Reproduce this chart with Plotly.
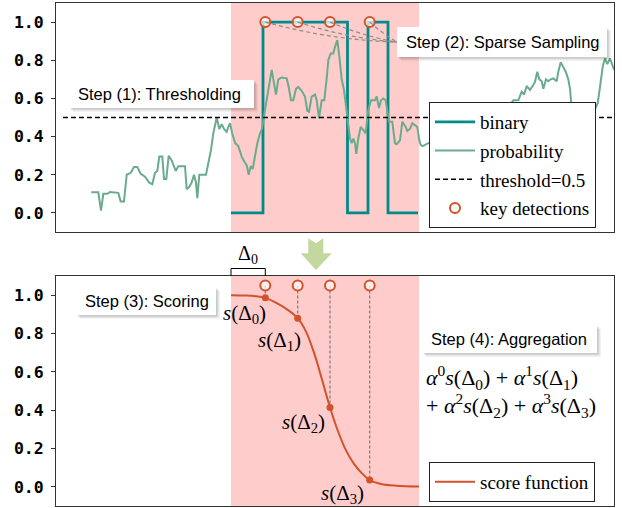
import plotly.graph_objects as go

# ---------------------------------------------------------------- data
# frame position and per-frame event probability
prob_x = [35.3, 42.3, 45, 47.3, 51.3, 54, 62.3, 64.7, 68, 70.7, 74.7, 78, 81.3, 84.7,
          89, 93, 96.3, 99, 101.3, 103.3, 106.3, 108, 110.3, 112.7, 115.7, 117.3, 119.7,
          122.3, 129, 130.7, 133.3, 135.7, 138, 140, 141.3, 143.3, 150, 152.3, 155,
          157.3, 160.7, 163.3, 165.7, 168, 170.7, 172.3, 174, 176.3, 179.3, 182.3, 185.7,
          189, 190.7, 192.7, 194.7, 196.7, 199, 201.3, 204, 206, 209, 212.3, 215.7, 218,
          220, 222.3, 225.7, 230.7, 232.7, 235, 237.3, 240, 242.3, 245.7, 249, 251.3, 253,
          255.7, 259, 260.7, 263, 265.7, 268.3, 270.7, 272.3, 274.7, 277.3, 279, 281.3,
          283.3, 285.7, 288, 290, 292.3, 294, 295.7, 297.3, 299, 300.3, 302.3, 304.7, 307.3,
          309.7, 312.3, 315, 319, 320.7, 323, 325, 327.3, 329.7, 333, 336.3, 339, 340.7,
          344, 346.3, 349.7, 351.3, 354, 356.3, 359, 361.3, 363.3, 364.7, 366.7, 370,
          374, 382, 390, 398, 406, 414, 422, 430, 438, 446, 452,
          457.3, 462.3, 465.7, 468, 470.7, 474, 477.3, 479, 481.3, 483.3, 485.7, 487.3,
          490, 492.3, 494.7, 497.3, 500.7, 502.3, 504.7, 507.3, 509.7, 512.3, 514, 515.7,
          520, 526, 532, 538, 541.7, 544, 546.7, 549, 551.3, 554, 557.3, 558]
prob_y = [0.108, 0.108, 0.012, 0.10, 0.10, 0.11, 0.105, 0.06, 0.06, 0.20, 0.21, 0.24,
          0.24, 0.205, 0.19, 0.16, 0.15, 0.21, 0.22, 0.295, 0.295, 0.178, 0.178, 0.30,
          0.275, 0.25, 0.22, 0.245, 0.245, 0.124, 0.137, 0.16, 0.20, 0.16, 0.077, 0.20,
          0.20, 0.26, 0.33, 0.417, 0.50, 0.44, 0.465, 0.44, 0.425, 0.45, 0.47, 0.415,
          0.365, 0.35, 0.295, 0.263, 0.25, 0.20, 0.245, 0.23, 0.30, 0.365, 0.417, 0.44,
          0.54, 0.645, 0.75, 0.68, 0.62, 0.70, 0.71, 0.705, 0.66, 0.59, 0.59, 0.65, 0.66,
          0.64, 0.61, 0.535, 0.53, 0.61, 0.62, 0.59, 0.496, 0.59, 0.59, 0.705, 0.80,
          0.836, 0.836, 0.87, 0.906, 0.82, 0.70, 0.644, 0.556, 0.47, 0.39, 0.365, 0.39,
          0.365, 0.31, 0.39, 0.45, 0.435, 0.417, 0.54, 0.59, 0.59, 0.61, 0.55, 0.59, 0.60,
          0.59, 0.478, 0.478, 0.365, 0.36, 0.38, 0.478, 0.45, 0.43, 0.44, 0.47, 0.46,
          0.45, 0.38, 0.356, 0.35, 0.36,
          0.37, 0.42, 0.40, 0.46, 0.44, 0.50, 0.47, 0.52, 0.50, 0.54, 0.55,
          0.59, 0.59, 0.635, 0.62, 0.665, 0.645, 0.67, 0.687, 0.74, 0.70, 0.69, 0.65,
          0.70, 0.69, 0.70, 0.705, 0.69, 0.74, 0.79, 0.76, 0.74, 0.70, 0.65, 0.545,
          0.50, 0.47, 0.49, 0.53, 0.575, 0.66, 0.766, 0.81, 0.78, 0.81, 0.766, 0.75]

# thresholded (binary) decision, step form
binary_x = [175, 207, 291.5, 312, 332, 362]
binary_y = [0, 1, 0, 1, 0, 0]

threshold = 0.5
threshold_x = [7, 558]

# ground-truth event interval
event_span = [175, 363]

# sparsely sampled key detections
det_x = [209.3, 241.7, 274, 313.7]
det_level_top = 1.0
det_level_bottom = 1.05

# score function s(Δ) and its value at each key detection
score_x = [175, 190, 200, 209.3, 220, 230, 241.7, 250, 258, 266, 274, 282, 290, 298,
           306, 313.7, 325, 340, 363]
score_y = [1.0, 0.998, 0.994, 0.986, 0.96, 0.93, 0.88, 0.81, 0.70, 0.56, 0.414, 0.29,
           0.19, 0.12, 0.07, 0.035, 0.015, 0.006, 0.002]
det_scores = [0.986, 0.88, 0.414, 0.035]

# ---------------------------------------------------------------- style
W, H = 622, 508
ML, MR, MT, MB = 56, 8, 3, 2
PW, PH = W - ML - MR, H - MT - MB

TEAL = "#008b8b"
GREEN = "#6aab8e"
ORANGE = "#d2522a"
PINK = "rgba(255,0,0,0.2)"
SANS = "Liberation Sans, Arial, sans-serif"
SERIF = "Liberation Serif, Tinos, Times New Roman, DejaVu Serif, serif"
MONO = "DejaVu Sans Mono"

X_RANGE = [0, 558]
Y_RANGE = [-0.1, 1.1]


def px_x(p):
    return (p - ML) / PW


def px_y(p):
    return (H - MB - p) / PH


top_dom = [px_y(232), 1.0]
bot_dom = [0.0, px_y(276)]

fig = go.Figure()

# ---------------------------------------------------------------- top panel
fig.add_trace(go.Scatter(x=binary_x, y=binary_y, mode="lines", name="binary",
                         line=dict(color=TEAL, width=2.8, shape="hv"),
                         xaxis="x", yaxis="y", legend="legend", legendgroup="a"))
fig.add_trace(go.Scatter(x=prob_x, y=prob_y, mode="lines", name="probability",
                         line=dict(color=GREEN, width=2),
                         xaxis="x", yaxis="y", legend="legend", legendgroup="b"))
fig.add_trace(go.Scatter(x=threshold_x, y=[threshold] * len(threshold_x), mode="lines",
                         name=f"threshold={threshold}",
                         line=dict(color="black", width=1.3, dash="5px,3px"),
                         xaxis="x", yaxis="y", legend="legend", legendgroup="c"))
fig.add_trace(go.Scatter(x=det_x, y=[det_level_top] * len(det_x), mode="markers",
                         name="key detections",
                         marker=dict(symbol="circle", size=10, color="rgba(255,255,255,0.7)",
                                     line=dict(color=ORANGE, width=2)),
                         xaxis="x", yaxis="y", legend="legend", legendgroup="d"))

# ---------------------------------------------------------------- bottom panel
drop_x, drop_y = [], []
for x, s in zip(det_x, det_scores):
    drop_x += [x, x, None]
    drop_y += [det_level_bottom, s, None]
fig.add_trace(go.Scatter(x=drop_x, y=drop_y, mode="lines", showlegend=False,
                         line=dict(color="#7a7a7a", width=1.2, dash="3px,2px"),
                         xaxis="x2", yaxis="y2"))
fig.add_trace(go.Scatter(x=score_x, y=score_y, mode="lines", name="score function",
                         line=dict(color=ORANGE, width=2, shape="spline"),
                         xaxis="x2", yaxis="y2", legend="legend2"))
fig.add_trace(go.Scatter(x=det_x, y=det_scores, mode="markers", showlegend=False,
                         marker=dict(size=7, color=ORANGE),
                         xaxis="x2", yaxis="y2"))
fig.add_trace(go.Scatter(x=det_x, y=[det_level_bottom] * len(det_x), mode="markers",
                         showlegend=False,
                         marker=dict(symbol="circle", size=10, color="rgba(255,255,255,0.7)",
                                     line=dict(color=ORANGE, width=2)),
                         xaxis="x2", yaxis="y2"))

# ---------------------------------------------------------------- shapes
shapes = []
for xr, yr in (("x", "y"), ("x2", "y2")):
    shapes.append(dict(type="rect", xref=xr, yref=f"{yr} domain", x0=event_span[0],
                       x1=event_span[1], y0=0, y1=1, fillcolor=PINK, line_width=0,
                       layer="below"))

# curved connectors from each key detection to the sampling label
y_px_per_unit = (top_dom[1] - top_dom[0]) * PH / (Y_RANGE[1] - Y_RANGE[0])
anchor_x, anchor_y = 341, 0.895
for x in det_x:
    x0, y0 = x, det_level_top
    mx, my = (x0 + anchor_x) / 2, (y0 + anchor_y) / 2
    length = ((anchor_x - x0) ** 2 + ((anchor_y - y0) * y_px_per_unit) ** 2) ** 0.5
    cy = my - 0.06 * length / y_px_per_unit
    shapes.append(dict(type="path", xref="x", yref="y",
                       path=f"M {x0},{y0} Q {mx},{cy} {anchor_x},{anchor_y}",
                       line=dict(color="#8a8a8a", width=1.2, dash="4px,3px")))

# bracket marking Δ0 on the bottom panel
bx0, bx1 = event_span[0], det_x[0]
shapes.append(dict(type="path", xref="x2", yref="paper",
                   path=f"M {bx0},{px_y(276)} L {bx0},{px_y(268.5)} "
                        f"L {bx1},{px_y(268.5)} L {bx1},{px_y(276)}",
                   line=dict(color="black", width=1)))

# downward arrow between the panels
arrow_px = [(308.3, 238.3), (316, 243.3), (323.3, 238.3), (323.3, 253.3), (331.7, 253.3),
            (316, 270), (300.7, 253.3), (308.3, 253.3)]
arrow_path = "M " + " L ".join(f"{px_x(a)},{px_y(b)}" for a, b in arrow_px) + " Z"
shapes.append(dict(type="path", xref="paper", yref="paper", path=arrow_path,
                   fillcolor="#c3d89e", line_width=0))

# ---------------------------------------------------------------- annotations
annotations = []


def label_box(text, left, top, w, h):
    # soft drop shadow, white card, then the caption
    for off, alpha in ((4, 0.05), (2.5, 0.09), (1.5, 0.08)):
        shapes.append(dict(type="rect", xref="paper", yref="paper",
                           x0=px_x(left + off), x1=px_x(left + w + off),
                           y0=px_y(top + h + off), y1=px_y(top + off),
                           fillcolor=f"rgba(0,0,0,{alpha})", line_width=0))
    shapes.append(dict(type="rect", xref="paper", yref="paper",
                       x0=px_x(left), x1=px_x(left + w), y0=px_y(top + h), y1=px_y(top),
                       fillcolor="white", line_width=0))
    annotations.append(dict(xref="paper", yref="paper", x=px_x(left + 7),
                            y=px_y(top + h / 2), xanchor="left", yanchor="middle",
                            showarrow=False, text=text,
                            font=dict(family=SANS, size=16.5, color="#000")))


label_box("Step (1): Thresholding", 69, 80, 185, 28)
label_box("Step (2): Sparse Sampling", 397, 27, 210, 30)
label_box("Step (3): Scoring", 76, 287, 140, 28)
label_box("Step (4): Aggregation", 422, 325, 175, 28)

# s(Δk) labels next to the sampled scores
s_shift = [(3, -1), (5, -8), (-3, -1), (-4, 1)]
for k, (x, s) in enumerate(zip(det_x, det_scores)):
    annotations.append(dict(xref="x2", yref="y2", x=x, y=s, xanchor="right",
                            yanchor="top", showarrow=False,
                            xshift=s_shift[k][0], yshift=s_shift[k][1],
                            text=f"<i>s</i>(Δ<sub>{k}</sub>)",
                            font=dict(family=SERIF, size=21, color="black")))

# Δ0 over the bracket
annotations.append(dict(xref="x2", yref="paper", x=(bx0 + bx1) / 2, y=px_y(268.5),
                        xanchor="center", yanchor="bottom", showarrow=False,
                        text="Δ<sub>0</sub>", font=dict(family=SERIF, size=20, color="black")))

# weighted aggregation formula, one annotation per line
terms = [f"<i>α</i><sup>{k}</sup><i>s</i>(Δ<sub>{k}</sub>)" for k in range(len(det_x))]
formula_lines = [f"{terms[0]} + {terms[1]}", f"+ {terms[2]} + {terms[3]}"]
for line_text, yc in zip(formula_lines, (377, 405)):
    annotations.append(dict(xref="paper", yref="paper", x=px_x(424), y=px_y(yc),
                            xanchor="left", yanchor="middle", align="left",
                            showarrow=False, text=line_text,
                            font=dict(family=SERIF, size=22, color="black")))

# ---------------------------------------------------------------- axes / layout
yaxis_common = dict(range=Y_RANGE, tickvals=[0, 0.2, 0.4, 0.6, 0.8, 1.0], tickformat=".1f",
                    ticks="outside", ticklen=4, tickwidth=1, tickcolor="#333",
                    tickfont=dict(family=MONO, size=16.5, color="black", weight="bold"),
                    showline=True, mirror=True, linecolor="#333", linewidth=1,
                    showgrid=False, zeroline=False, ticklabelstandoff=4)
xaxis_common = dict(range=X_RANGE, showticklabels=False, ticks="", showline=True,
                    mirror=True, linecolor="#333", linewidth=1, showgrid=False,
                    zeroline=False)

legend_common = dict(font=dict(family=SERIF, size=19, color="black"), bgcolor="white",
                     bordercolor="#222", borderwidth=1, xanchor="left", yanchor="top",
                     itemwidth=40)

fig.update_layout(
    width=W, height=H, margin=dict(l=ML, r=MR, t=MT, b=MB),
    paper_bgcolor="white", plot_bgcolor="white",
    xaxis=dict(xaxis_common, domain=[0, 1], anchor="y"),
    yaxis=dict(yaxis_common, domain=top_dom, anchor="x"),
    xaxis2=dict(xaxis_common, domain=[0, 1], anchor="y2"),
    yaxis2=dict(yaxis_common, domain=bot_dom, anchor="x2"),
    legend=dict(legend_common, x=px_x(429), y=px_y(102), tracegroupgap=1),
    legend2=dict(legend_common, x=px_x(429), y=px_y(462)),
    shapes=shapes, annotations=annotations,
)

fig.write_html("out.html")
